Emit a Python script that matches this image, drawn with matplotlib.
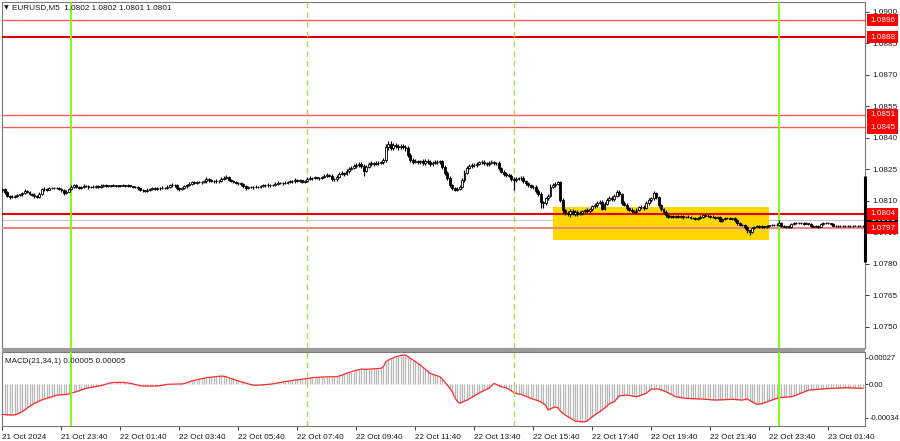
import numpy as np
import matplotlib
matplotlib.use("Agg")
import matplotlib.pyplot as plt
import matplotlib.transforms as mtransforms
from matplotlib.patches import Rectangle

plt.rcParams['font.family'] = ['Liberation Sans', 'DejaVu Sans']

# ---------------- data ----------------
BASE = 1.0800
PIP = 0.0001
open_first = 15.0  # pips over BASE

close_pips = [
    15.6, 14.2, 12.5, 11.8, 12.0, 12.3, 12.8, 13.1, 13.6, 14.8, 14.2, 13.5,
    13.0, 12.2, 11.9, 13.4, 15.5, 15.8, 15.4, 16.1, 16.2, 16.0, 16.3, 15.9,
    15.2, 13.7, 14.5, 15.5, 16.9, 17.4, 16.8, 16.3, 16.6, 17.2, 17.0, 16.5,
    16.6, 16.9, 17.1, 16.7, 17.3, 17.5, 17.2, 17.4, 17.3, 17.5, 17.2, 17.4,
    17.3, 17.5, 17.2, 17.4, 17.0, 16.6, 16.8, 16.0, 15.3, 15.0, 14.8, 15.4,
    15.8, 16.1, 15.7, 16.2, 16.0, 16.4, 16.2, 16.9, 17.4, 17.8, 17.5, 16.3,
    15.6, 16.2, 17.0, 17.6, 18.3, 18.9, 18.7, 19.0, 19.2, 18.9, 19.4, 20.3,
    19.8, 19.5, 19.3, 19.7, 19.5, 20.4, 20.8, 21.4, 20.2, 19.7, 19.2, 18.6,
    18.4, 18.1, 17.0, 16.3, 16.6, 16.8, 16.5, 16.9, 16.7, 17.1, 17.6, 17.4,
    17.8, 17.5, 17.7, 18.3, 18.7, 18.5, 18.8, 18.6, 19.0, 19.5, 19.3, 20.2,
    19.6, 19.8, 19.2, 19.4, 20.6, 21.0, 20.8, 21.2, 21.1, 20.9, 21.4, 22.0,
    22.4, 22.1, 20.6, 20.3, 21.5, 23.0, 23.4, 22.8, 24.2, 25.3, 25.8, 26.5,
    27.0, 27.6, 26.8, 24.5, 26.3, 27.6, 28.1, 27.8, 28.3, 28.0, 28.4, 29.5,
    35.5, 37.2, 35.4, 36.5, 36.0, 35.6, 36.3, 35.8, 35.2, 31.9, 29.5, 28.7,
    29.0, 28.4, 28.9, 28.0, 29.2, 28.6, 27.5, 28.3, 28.8, 28.5, 28.9, 26.3,
    23.5, 21.0, 17.6, 16.0, 15.4, 15.8, 16.8, 20.0, 23.5, 25.8, 26.6, 27.3,
    27.0, 27.8, 28.4, 28.7, 28.0, 27.6, 28.2, 28.5, 27.9, 28.1, 25.5, 24.0,
    23.0, 22.4, 22.0, 20.6, 19.8, 20.5, 20.8, 21.0, 19.5, 18.4, 17.5, 16.8,
    16.6, 14.8, 13.2, 9.5, 8.9, 11.2, 12.5, 16.8, 17.6, 18.2, 18.9, 10.5,
    5.5, 4.1, 3.6, 5.2, 4.0, 4.8, 3.9, 4.5, 5.0, 5.7, 5.3, 6.0,
    7.5, 8.1, 9.2, 9.7, 6.4, 8.8, 10.5, 11.3, 11.0, 12.6, 14.4, 13.2,
    9.0, 8.2, 6.5, 5.7, 5.2, 4.6, 5.9, 7.0, 7.3, 6.8, 8.9, 10.5,
    11.2, 13.7, 12.0, 8.1, 6.0, 4.9, 3.3, 2.5, 2.9, 2.3, 2.7, 2.5,
    2.8, 2.2, 2.6, 2.4, 2.0, 1.8, 1.5, 1.9, 2.6, 3.3, 3.0, 2.8,
    2.2, 2.5, 1.9, 2.3, 0.5, 1.2, 1.8, 2.0, 1.6, 1.7, 0.8, -0.5,
    -1.2, -1.4, -2.5, -4.0, -4.6, -3.0, -2.2, -2.0, -2.3, -2.1, -2.4, -2.0,
    -1.6, -1.4, -1.2, -1.5, -0.3, -1.8, -2.2, -2.0, -2.3, -0.9, -0.6, -0.4,
    -0.7, -0.5, -0.8, -0.6, -1.0, -2.0, -2.2, -1.9, -2.3, -0.8, -0.6, -0.5,
    -0.7, -0.9, -1.7, -1.9, -2.0, -1.8, -1.9, -2.1, -1.9, -2.0, -1.8, -1.9,
    -1.9, -1.8, -1.9,
]

hi_ext = [
    0.8, 0.5, 0.6, 0.4, 0.7, 0.5, 0.6, 0.4, 0.5, 0.9, 0.6, 0.5,
    0.4, 0.6, 0.5, 0.8, 0.6, 0.7, 0.5, 0.6, 0.4, 0.5, 0.6, 0.5,
    0.5, 0.4, 0.6, 0.7, 0.9, 0.6, 0.5, 0.4, 0.6, 0.7, 0.5, 0.4,
    0.5, 0.6, 0.4, 0.5, 0.6, 0.4, 0.5, 0.3, 0.4, 0.5, 0.3, 0.4,
    0.3, 0.4, 0.3, 0.5, 0.4, 0.3, 0.5, 0.4, 0.3, 0.5, 0.4, 0.6,
    0.5, 0.6, 0.4, 0.5, 0.4, 0.6, 0.5, 0.7, 0.6, 0.8, 0.5, 0.4,
    0.5, 0.6, 0.7, 0.6, 0.8, 0.7, 0.5, 0.6, 0.5, 0.4, 0.7, 0.9,
    0.6, 0.5, 0.4, 0.6, 0.5, 0.8, 0.9, 1.0, 0.6, 0.5, 0.4, 0.5,
    0.6, 0.5, 0.4, 0.6, 0.5, 0.4, 0.5, 0.6, 0.4, 0.5, 0.7, 0.5,
    0.6, 0.4, 0.5, 0.7, 0.6, 0.5, 0.4, 0.5, 0.6, 0.7, 0.5, 0.8,
    0.5, 0.6, 0.4, 0.5, 0.9, 0.7, 0.5, 0.6, 0.4, 0.5, 0.7, 0.8,
    0.7, 0.5, 0.6, 0.4, 0.8, 0.9, 0.7, 0.6, 0.9, 1.0, 0.8, 1.1,
    0.9, 1.0, 0.8, 0.6, 0.9, 1.0, 0.8, 0.7, 0.9, 0.6, 0.8, 1.2,
    1.5, 1.5, 1.2, 1.0, 0.9, 1.1, 0.8, 0.9, 0.7, 1.0, 0.9, 0.8,
    0.9, 0.7, 0.8, 1.0, 0.8, 0.6, 0.9, 0.8, 0.7, 0.9, 0.6, 0.8,
    0.9, 0.8, 0.7, 0.6, 0.5, 0.7, 0.9, 1.0, 1.1, 0.9, 0.8, 0.7,
    0.8, 0.9, 0.7, 0.8, 0.6, 0.7, 0.9, 0.8, 0.6, 0.7, 0.8, 0.6,
    0.7, 0.6, 0.8, 0.9, 0.7, 0.8, 0.6, 0.7, 0.9, 0.6, 0.7, 0.8,
    0.6, 0.8, 0.7, 0.9, 0.6, 0.9, 1.0, 1.2, 0.9, 0.8, 0.5, 0.7,
    0.8, 0.9, 1.2, 1.0, 1.1, 0.8, 0.9, 0.7, 0.8, 0.6, 0.9, 0.7,
    0.8, 0.9, 0.7, 0.8, 1.0, 0.9, 0.8, 0.9, 1.0, 0.9, 0.8, 0.7,
    0.6, 0.8, 0.7, 0.6, 0.8, 0.7, 0.9, 0.8, 0.6, 0.7, 0.9, 0.8,
    0.7, 0.9, 0.8, 0.6, 0.7, 0.8, 0.6, 0.5, 0.6, 0.5, 0.6, 0.5,
    0.6, 0.5, 0.4, 0.5, 0.6, 0.4, 0.5, 0.6, 0.7, 0.6, 0.5, 0.6,
    0.5, 0.6, 0.5, 0.4, 0.6, 0.5, 0.4, 0.5, 0.6, 0.4, 0.5, 0.4,
    0.5, 0.4, 0.6, 0.5, 0.4, 0.6, 0.5, 0.4, 0.5, 0.6, 0.4, 0.5,
    0.4, 0.5, 0.4, 0.6, 1.3, 0.5, 0.4, 0.3, 0.5, 0.6, 0.4, 0.5,
    0.4, 0.3, 0.5, 0.4, 0.3, 0.4, 0.5, 0.3, 0.4, 0.5, 0.4, 0.3,
    0.4, 0.3, 0.4, 0.3, 0.4, 0.3, 0.2, 0.3, 0.4, 0.3, 0.2, 0.3,
    0.3, 0.2, 0.3,
]

lo_ext = [
    0.6, 0.7, 0.5, 0.8, 0.5, 0.6, 0.4, 0.5, 0.6, 0.4, 0.5, 0.7,
    0.6, 0.8, 0.7, 0.5, 0.4, 0.6, 0.5, 0.4, 0.6, 0.5, 0.4, 0.6,
    0.7, 0.9, 0.5, 0.4, 0.5, 0.6, 0.7, 0.5, 0.4, 0.6, 0.5, 0.6,
    0.4, 0.5, 0.6, 0.4, 0.3, 0.5, 0.4, 0.3, 0.4, 0.3, 0.5, 0.4,
    0.4, 0.3, 0.5, 0.3, 0.5, 0.6, 0.4, 0.7, 0.6, 0.5, 0.7, 0.5,
    0.6, 0.5, 0.7, 0.5, 0.6, 0.4, 0.5, 0.4, 0.5, 0.6, 0.7, 0.9,
    0.8, 0.6, 0.5, 0.6, 0.5, 0.6, 0.7, 0.5, 0.6, 0.7, 0.5, 0.6,
    0.7, 0.6, 0.5, 0.6, 0.7, 0.5, 0.6, 0.5, 0.8, 0.6, 0.7, 0.6,
    0.7, 0.8, 1.0, 0.9, 0.6, 0.5, 0.7, 0.5, 0.6, 0.5, 0.6, 0.7,
    0.5, 0.6, 0.5, 0.4, 0.6, 0.5, 0.7, 0.5, 0.6, 0.5, 0.6, 0.5,
    0.7, 0.6, 0.8, 0.6, 0.5, 0.6, 0.7, 0.5, 0.6, 0.7, 0.5, 0.6,
    0.6, 0.7, 1.0, 0.8, 0.6, 0.7, 0.6, 0.8, 0.6, 0.7, 0.6, 0.7,
    0.8, 0.7, 0.9, 2.5, 0.8, 0.7, 0.8, 0.9, 0.7, 0.8, 0.6, 0.7,
    0.9, 1.0, 1.3, 0.9, 1.0, 1.1, 0.9, 1.0, 1.2, 1.0, 1.1, 0.9,
    0.8, 1.0, 0.8, 0.9, 0.7, 0.8, 1.0, 0.8, 0.7, 0.9, 0.8, 1.0,
    1.0, 1.2, 1.0, 0.9, 0.6, 0.8, 0.7, 0.8, 0.9, 0.7, 0.8, 0.9,
    0.7, 0.8, 0.6, 0.7, 0.9, 0.8, 0.7, 0.6, 0.8, 0.7, 0.9, 0.8,
    0.9, 0.8, 0.7, 0.9, 4.6, 0.8, 0.7, 0.6, 0.9, 0.8, 0.7, 0.8,
    0.7, 0.9, 0.8, 3.0, 2.4, 1.0, 0.9, 0.8, 0.7, 0.9, 0.8, 1.0,
    1.2, 1.0, 0.9, 1.1, 0.8, 1.0, 0.9, 0.8, 1.0, 0.9, 0.8, 0.9,
    0.8, 0.9, 1.0, 0.8, 0.7, 0.9, 0.8, 0.7, 0.9, 0.8, 0.9, 1.0,
    0.9, 0.8, 0.9, 0.7, 0.8, 0.5, 0.7, 0.8, 0.7, 0.9, 0.8, 0.7,
    0.8, 0.7, 0.9, 0.8, 0.7, 0.9, 0.8, 0.6, 0.5, 0.6, 0.5, 0.6,
    0.5, 0.6, 0.5, 0.4, 0.5, 0.6, 0.5, 0.4, 0.5, 0.6, 0.5, 0.4,
    0.5, 0.4, 0.6, 0.5, 0.3, 0.5, 0.4, 0.5, 0.4, 0.5, 0.6, 0.7,
    0.6, 0.5, 0.7, 1.2, 1.6, 0.6, 0.5, 0.4, 0.5, 0.4, 0.5, 0.4,
    0.5, 0.4, 0.5, 0.4, 0.5, 0.6, 0.4, 0.5, 0.4, 0.5, 0.4, 0.3,
    0.4, 0.3, 0.4, 0.3, 0.4, 0.5, 0.4, 0.3, 0.4, 0.3, 0.4, 0.3,
    0.3, 0.4, 0.3, 0.4, 0.3, 0.2, 0.3, 0.4, 0.3, 0.2, 0.3, 0.2,
    0.3, 0.2, 0.3,
]

# MACD(21,34,1) main line, in units of 1e-5
macd_e5 = [
    -30.5, -30.8, -31.0, -31.1, -31.2, -31.0, -30.2, -29.0, -27.8, -26.0, -24.2, -22.4,
    -20.8, -19.3, -18.2, -17.0, -15.8, -15.0, -14.2, -13.4, -12.6, -11.8, -11.0, -10.8,
    -10.6, -10.4, -10.2, -9.8, -9.1, -8.2, -7.4, -6.6, -5.8, -5.0, -4.2, -3.6,
    -3.0, -2.6, -2.2, -1.8, -1.4, -0.7, 0.0, 0.8, 1.6, 1.8, 1.9, 2.0,
    2.0, 2.0, 1.7, 1.4, 1.0, 0.4, -0.2, -0.8, -1.4, -1.6, -1.7, -1.7,
    -1.8, -1.8, -1.7, -1.7, -1.4, -1.0, -0.5, 0.0, 0.1, 0.2, 0.2, 0.3,
    0.3, 0.3, 0.8, 1.6, 2.6, 3.4, 4.0, 4.6, 5.2, 5.7, 6.2, 6.7,
    7.0, 7.4, 7.7, 8.0, 8.2, 8.4, 8.2, 7.6, 6.7, 5.8, 5.0, 4.2,
    3.4, 2.7, 1.9, 1.2, 0.5, -0.2, -0.7, -1.0, -0.9, -0.7, -0.5, -0.3,
    -0.1, 0.0, 0.4, 0.9, 1.4, 1.8, 2.3, 2.7, 3.1, 3.5, 3.9, 4.4,
    4.4, 4.8, 5.2, 5.6, 6.1, 6.4, 6.7, 6.9, 7.1, 7.3, 7.4, 7.5,
    7.6, 7.6, 7.7, 7.7, 7.7, 8.4, 9.2, 10.2, 11.2, 12.0, 12.8, 13.6,
    14.2, 14.9, 15.5, 15.3, 15.2, 15.4, 15.5, 15.7, 15.9, 16.0, 16.2, 17.8,
    23.0, 24.5, 25.8, 26.8, 28.0, 28.6, 29.2, 29.6, 29.7, 28.2, 26.4, 24.8,
    23.0, 21.4, 19.6, 17.5, 15.4, 13.3, 11.2, 10.3, 9.4, 8.6, 7.7, 5.2,
    2.2, -0.7, -4.0, -7.5, -13.0, -17.0, -19.3, -18.2, -17.0, -16.0, -14.6, -13.2,
    -11.7, -10.2, -8.8, -7.4, -6.2, -5.0, -4.1, -1.5, 1.0, -0.2, -1.5, -2.5,
    -3.0, -3.4, -5.0, -6.6, -8.1, -9.2, -9.8, -10.2, -11.2, -12.2, -13.2, -14.2,
    -15.0, -15.8, -16.7, -17.6, -19.5, -21.0, -26.1, -25.0, -23.8, -23.0, -23.8, -27.0,
    -29.5, -31.2, -32.8, -34.2, -35.6, -37.3, -37.6, -37.8, -38.0, -38.0, -37.0, -35.0,
    -32.9, -31.2, -29.5, -27.8, -26.1, -24.0, -22.0, -19.8, -18.5, -17.6, -14.6, -11.6,
    -11.4, -11.1, -10.9, -11.3, -11.8, -12.2, -12.6, -11.8, -10.9, -10.0, -9.1, -7.0,
    -4.8, -4.8, -4.8, -4.8, -5.6, -6.5, -7.5, -8.8, -10.0, -11.3, -12.6, -13.0,
    -13.4, -13.8, -14.2, -14.3, -14.4, -14.5, -14.6, -14.8, -14.9, -15.0, -15.2, -15.4,
    -15.6, -15.8, -16.0, -15.9, -15.8, -15.6, -15.5, -15.4, -15.3, -15.2, -15.4, -15.6,
    -15.8, -16.0, -15.5, -14.9, -16.2, -17.6, -19.0, -20.3, -20.0, -19.6, -18.7, -17.8,
    -16.9, -16.0, -15.2, -14.4, -13.5, -13.3, -13.1, -12.9, -12.7, -12.6, -11.8, -11.0,
    -10.0, -9.1, -8.0, -6.9, -5.8, -5.6, -5.3, -5.1, -4.9, -4.7, -4.5, -4.3,
    -4.2, -4.1, -4.0, -3.9, -3.8, -3.6, -3.5, -3.4, -3.5, -3.6, -3.8, -3.9,
    -4.0, -4.1, -4.1,
]

level_prices = [1.0896, 1.0888, 1.0851, 1.0845, 1.0804, 1.0797]
level_labels = ["1.0896", "1.0888", "1.0851", "1.0845", "1.0804", "1.0797"]
bid_price = 1.0801
bid_label = "1.0801"

price_ticks = [1.0900, 1.0885, 1.0870, 1.0855, 1.0840, 1.0825, 1.0810,
               1.0795, 1.0780, 1.0765, 1.0750]
macd_ticks = [0.00027, 0.0, -0.00034]
macd_tick_labels = ["0.00027", "0.00", "-0.00034"]

time_tick_idx = [0, 24, 48, 72, 96, 120, 144, 168, 192, 216, 240, 264, 288, 312, 336]
time_tick_labels = ["21 Oct 2024", "21 Oct 23:40", "22 Oct 01:40", "22 Oct 03:40",
                    "22 Oct 05:40", "22 Oct 07:40", "22 Oct 09:40", "22 Oct 11:40",
                    "22 Oct 13:40", "22 Oct 15:40", "22 Oct 17:40", "22 Oct 19:40",
                    "22 Oct 21:40", "22 Oct 23:40", "23 Oct 01:40"]

day_sep_idx = [28, 316]       # 00:00 bars
session_idx = [124, 208]      # 08:00 and 15:00 bars

zone_idx = [224.2, 311.9]
zone_prices = [1.08073, 1.07913]

edge_bar_prices = [1.0822, 1.0781]

header_text = "EURUSD,M5  1.0802 1.0802 1.0801 1.0801"
macd_text = "MACD(21,34,1) 0.00005 0.00005"

# ---------------- derived ----------------
n = len(close_pips)
idx = np.arange(n)
c = BASE + np.array(close_pips) * PIP
o = np.concatenate([[BASE + open_first * PIP], c[:-1]])
h = np.maximum(o, c) + np.array(hi_ext) * PIP
l = np.minimum(o, c) - np.array(lo_ext) * PIP
macd = np.array(macd_e5) * 1e-5

# ---------------- figure ----------------
W, H = 900, 441
FS = 5.9
TXT = "#1a1a1a"
fig = plt.figure(figsize=(W / 100, H / 100), dpi=100)
fig.patch.set_facecolor("white")

def fy(px):
    return 1 - px / H

left, right = 2, 865
ax = fig.add_axes([left / W, fy(348), (right - left) / W, (348 - 2) / H])
ax2 = fig.add_axes([left / W, fy(426), (right - left) / W, (426 - 352) / H])

# separator band
fig.patches.append(Rectangle((left / W, fy(352)), (right - left) / W, 4 / H,
                             transform=fig.transFigure, facecolor="#9a9a9a",
                             edgecolor="none", zorder=5))

xlim = (-0.2, 351.0)
for a in (ax, ax2):
    a.set_xlim(*xlim)
    a.set_facecolor("white")
    for s in a.spines.values():
        s.set_color("#7a7a7a")
        s.set_linewidth(0.8)

ax.set_ylim(1.0740, 1.090476)
ax2.set_ylim(-42.3e-5, 32.8e-5)

# zone rectangle
ax.add_patch(Rectangle((zone_idx[0], zone_prices[1]), zone_idx[1] - zone_idx[0],
                       zone_prices[0] - zone_prices[1], facecolor="#ffd700",
                       edgecolor="none", zorder=1))

# bid line
ax.axhline(bid_price, color="#c8c8c8", lw=0.9, zorder=0.5)

# levels
level_styles = [("#ff5a5a", 1.0), ("#e80000", 1.5), ("#ff5a5a", 1.0),
                ("#ff5a5a", 1.0), ("#e80000", 1.5), ("#f28080", 1.4)]
for p, (col, lw) in zip(level_prices, level_styles):
    ax.axhline(p, color=col, lw=lw, zorder=3)

# vertical lines
for a in (ax, ax2):
    for i in day_sep_idx:
        a.axvline(i, color="#7cfc00", lw=1.3, zorder=4)
    for i in session_idx:
        a.axvline(i, color="#a8e04a", lw=1.0, ls=(0, (4, 3)), zorder=4)

# candles
up = c >= o
ax.vlines(idx, l, h, color="black", lw=0.85, zorder=6)
body_h = np.maximum(np.abs(c - o), 0.15 * PIP)
ax.bar(idx[up], body_h[up], bottom=np.minimum(o, c)[up], width=0.78,
       facecolor="white", edgecolor="black", linewidth=0.6, zorder=7)
ax.bar(idx[~up], body_h[~up], bottom=np.minimum(o, c)[~up], width=0.78,
       facecolor="black", edgecolor="black", linewidth=0.6, zorder=7)

# right edge bar
ax.plot([1.0, 1.0], edge_bar_prices, color="black", lw=2.2,
        transform=mtransforms.blended_transform_factory(ax.transAxes, ax.transData),
        clip_on=False, zorder=8, solid_capstyle="butt")

# axis ticks main
ax.yaxis.tick_right()
ax.set_yticks(price_ticks)
ax.set_yticklabels([f"{p:.4f}" for p in price_ticks])
ax.tick_params(axis="y", length=3, width=0.6, labelsize=FS, pad=2,
               colors=TXT, direction="out")
ax.set_xticks([])

# price label boxes
trans = mtransforms.blended_transform_factory(ax.transAxes, ax.transData)
ax.text(1.0058, bid_price, bid_label, transform=trans, fontsize=FS, color="white",
        va="center", ha="left", clip_on=False, zorder=19,
        bbox=dict(facecolor="black", edgecolor="none", pad=1.8))
for p, lab in zip(level_prices, level_labels):
    ax.text(1.0058, p, lab, transform=trans, fontsize=FS, color="white",
            va="center", ha="left", clip_on=False, zorder=20,
            bbox=dict(facecolor="#ff0000", edgecolor="none", pad=1.8))

# MACD panel
ax2.vlines(idx, 0, macd, color="#b8b8b8", lw=0.9, zorder=2)
ax2.plot(idx, macd, color="#ff2a2a", lw=0.9, zorder=3)
ax2.yaxis.tick_right()
ax2.set_yticks(macd_ticks)
ax2.set_yticklabels(macd_tick_labels)
ax2.tick_params(axis="y", length=2, width=0.6, labelsize=5.5, pad=1.0, colors=TXT)
ax2.set_xticks(time_tick_idx)
ax2.set_xticklabels(time_tick_labels)
ax2.tick_params(axis="x", length=3, width=0.6, labelsize=FS, pad=2.5, colors=TXT)
for t in ax2.get_xticklabels():
    t.set_ha("left")

ax2.text(0.003, 0.92, macd_text, transform=ax2.transAxes, fontsize=FS,
         color=TXT, va="top", ha="left", zorder=10)

fig.text(4 / W, fy(8), "\u25BC", fontsize=4.5, color=TXT, va="center", ha="left",
         family="DejaVu Sans")
fig.text(12 / W, fy(8), header_text, fontsize=FS, color=TXT,
         va="center", ha="left")

fig.savefig("out.png", dpi=100, facecolor="white")
